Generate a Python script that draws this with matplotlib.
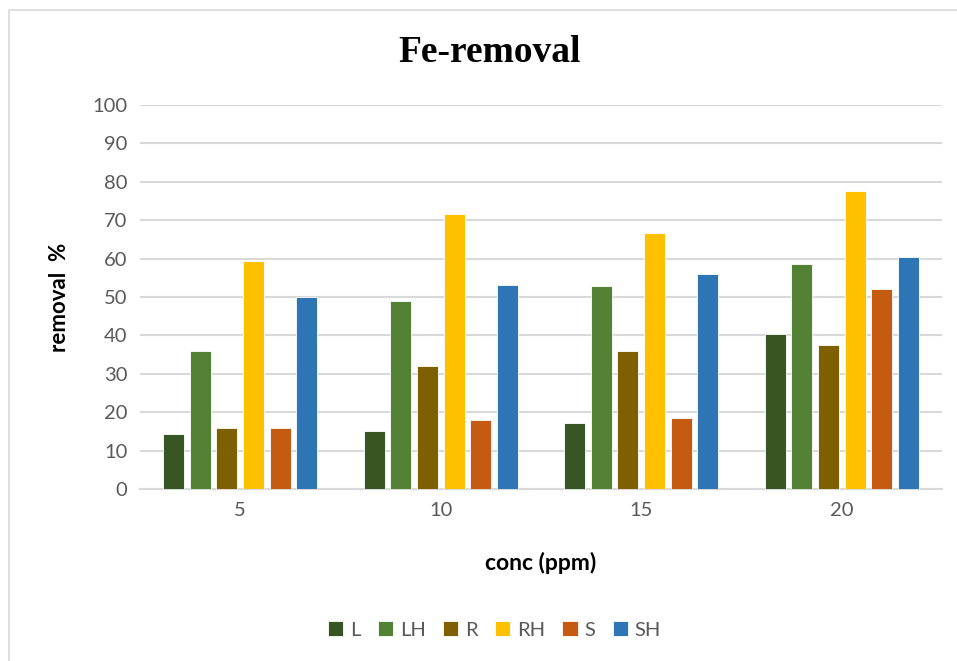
import numpy as np
import matplotlib.pyplot as plt
from matplotlib.patches import Rectangle

conc = ["5", "10", "15", "20"]
series = ["L", "LH", "R", "RH", "S", "SH"]
L = [14.4, 15.0, 17.3, 40.3]
LH = [36.0, 49.0, 52.9, 58.5]
R = [16.0, 32.0, 36.0, 37.4]
RH = [59.5, 71.5, 66.6, 77.5]
S = [16.0, 18.0, 18.6, 52.1]
SH = [50.0, 53.0, 56.0, 60.3]
colors = ["#375623", "#548235", "#7f6000", "#ffc000", "#c55a11", "#2e75b6"]

plt.rcParams['font.family'] = ['Lato', 'DejaVu Sans']

fig = plt.figure(figsize=(9.57, 6.61), dpi=100)
ax = fig.add_axes([140/957, 172/661, 802/957, 384/661])

# light frame around the chart area
fig.patches.append(Rectangle((9/957, -0.1), 1.2, (651/661) + 0.1, transform=fig.transFigure,
                             fill=False, edgecolor="#d9d9d9", linewidth=1.2))

x = np.arange(len(conc))
step = 0.133
w = 0.105
data = [L, LH, R, RH, S, SH]
for i in range(len(series)):
    ax.bar(x + (i - 2.5) * step, data[i], w, color=colors[i], label=series[i],
           edgecolor="white", linewidth=0.6, zorder=3)

ax.set_xlim(-0.5, 3.5)
ax.set_ylim(0, 100)
ax.set_yticks(range(0, 101, 10))
ax.set_xticks(x)
ax.set_xticklabels(conc)
ax.yaxis.grid(True, color="#d9d9d9", linewidth=1.5, zorder=0)
ax.tick_params(length=0, labelsize=14.5, labelcolor="#595959", pad=9)
for s in ["top", "right", "left"]:
    ax.spines[s].set_visible(False)
ax.spines["bottom"].set_color("#d9d9d9")
ax.spines["bottom"].set_linewidth(1.5)

ax.set_ylabel("removal  %", fontsize=16, fontweight="bold", labelpad=16)
ax.set_xlabel("conc (ppm)", fontsize=16.5, fontweight="bold", labelpad=24)
fig.text(0.512, 1 - 52/661, "Fe-removal", ha="center", va="center",
         fontsize=27, fontweight="bold", family="Liberation Serif")

ax.legend(loc="center", bbox_to_anchor=(0.517, 1 - 630/661), bbox_transform=fig.transFigure,
          ncol=6, frameon=False, fontsize=14.5, handlelength=0.75, handleheight=0.75,
          columnspacing=0.85, handletextpad=0.35, labelcolor="#595959")

fig.savefig("out.png", dpi=100)
